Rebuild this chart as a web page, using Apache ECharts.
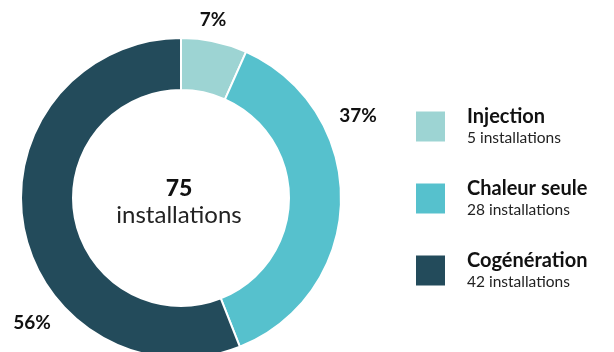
<!DOCTYPE html>
<html><head><meta charset="utf-8">
<script src="https://cdn.jsdelivr.net/npm/echarts@6/dist/echarts.min.js"></script>
<style>html,body{margin:0;padding:0;background:#fff}#c{width:614px;height:352px}</style>
</head><body><div id="c"></div>
<script>
const categories = ['Injection', 'Chaleur seule', 'Cogénération'];
const values = [5, 28, 42];
const colors = ['#9dd4d3', '#56c1cd', '#234b5b'];
const total = values.reduce((a, b) => a + b, 0);
const labelPos = [[213, 20], [358, 116], [32, 323]];
const FONT = 'Lato';

const chart = echarts.init(document.getElementById('c'), null, {renderer: 'canvas'});
chart.setOption({
  animation: false,
  color: colors,
  legend: {
    orient: 'vertical',
    left: 414, top: 107,
    padding: 0,
    itemWidth: 31, itemHeight: 32,
    itemGap: 33,
    icon: 'rect',
    selectedMode: false,
    data: categories,
    formatter: function (name) {
      const i = categories.indexOf(name);
      return '{n|' + name + '}\n{s|' + values[i] + ' installations}';
    },
    textStyle: {
      fontFamily: FONT,
      rich: {
        n: {fontSize: 20, fontWeight: 'bold', color: '#111', fontFamily: FONT, lineHeight: 23, padding: [0, 0, 0, 16]},
        s: {fontSize: 15.5, color: '#222', fontFamily: FONT, lineHeight: 19, padding: [0, 0, 0, 16]}
      }
    }
  },
  graphic: [{
    type: 'text',
    x: 179, y: 189,
    style: {
      text: String(total), fontFamily: FONT, fontSize: 23, fontWeight: 900,
      fill: '#111', align: 'center', verticalAlign: 'middle'
    }
  }, {
    type: 'text',
    x: 179, y: 215,
    style: {
      text: 'installations', fontFamily: FONT, fontSize: 24,
      fill: '#222', align: 'center', verticalAlign: 'middle'
    }
  }],
  series: [{
    type: 'pie',
    center: [181, 198],
    radius: [108, 160],
    startAngle: 90,
    clockwise: true,
    avoidLabelOverlap: false,
    itemStyle: {borderColor: '#fff', borderWidth: 2},
    label: {
      show: true, position: 'outside',
      formatter: p => Math.round(p.percent) + '%',
      fontFamily: FONT, fontSize: 19, fontWeight: 'bold', color: '#111'
    },
    labelLine: {show: false},
    labelLayout: function (params) {
      const p = labelPos[params.dataIndex];
      return {x: p[0], y: p[1], align: 'center', verticalAlign: 'middle'};
    },
    data: categories.map((c, i) => ({name: c, value: values[i]}))
  }]
});
</script></body></html>
